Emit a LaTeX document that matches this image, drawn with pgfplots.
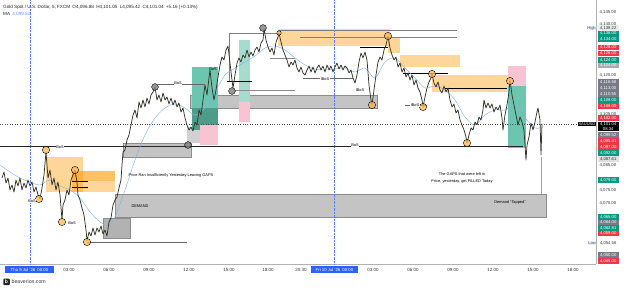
\documentclass[border=0pt]{standalone}
\usepackage{pgfplots}
\pgfplotsset{compat=1.18}
\usepackage{fontspec}
\setmainfont{Liberation Sans}
\definecolor{tvgreen}{HTML}{089981}
\definecolor{tvred}{HTML}{F23645}
\definecolor{tvgray}{HTML}{787B86}
\definecolor{tvlgray}{HTML}{A9ACB5}
\definecolor{tvblue}{HTML}{2962FF}
\definecolor{orangeC}{HTML}{FF9800}
\definecolor{orangeDot}{HTML}{FFB74D}
\definecolor{tealA}{HTML}{6CC5AE}
\definecolor{tealB}{HTML}{A6DCCD}
\definecolor{tealD}{HTML}{4F9B89}
\definecolor{pinkA}{HTML}{F8C3D2}
\definecolor{boxgray}{HTML}{C4C4C4}
\definecolor{boxedge}{HTML}{8C8C8C}
\definecolor{candle}{HTML}{35352A}
\definecolor{maBlue}{HTML}{82B4F0}
\newcommand\fs[1]{\fontsize{#1}{#1}\selectfont}
\newcommand{\boxp}[5]{\addplot[#5] coordinates {(#1,#3) (#2,#3) (#2,#4) (#1,#4)} -- cycle;}
\newcommand{\plab}[4]{\node[anchor=west, fill=#3, text=#4, inner sep=0pt, minimum width=21pt, minimum height=5.2pt, font=\fs{4.2}] at (597.5,{264-#1}) {#2};}
\begin{document}
\begin{tikzpicture}[x=1pt,y=1pt]
\begin{axis}[at={(0,0)}, anchor=south west, scale only axis, width=596pt, height=264pt,
 xmin=0, xmax=596, ymin=4046.06, ymax=4149.71,
 axis x line*=bottom, axis y line*=right, axis line style={-, draw=black!30},
 major tick length=0pt,
 xtick={69,109,149,189,229,268,301,373,413,453,493,533,573},
 xticklabels={03:00,06:00,09:00,12:00,15:00,18:00,20:30,03:00,06:00,09:00,12:00,15:00,18:00},
 xticklabel style={anchor=center, yshift=-6pt, font=\fs{4.5}, text=black!80},
 ytick={4145,4140,4120,4105,4085,4075,4070},
 yticklabel style={font=\fs{4.3}, text=black!80, /pgf/number format/fixed, /pgf/number format/fixed zerofill, /pgf/number format/precision=2, /pgf/number format/1000 sep={,}, /pgf/number format/assume math mode=true},
 clip=false,
]
% --- zones ---
\boxp{46}{83}{4088.07}{4074.33}{fill=orangeC, fill opacity=0.4, draw=none}
\boxp{72}{115}{4082.57}{4078.65}{fill=orangeC, fill opacity=0.6, draw=none}
\boxp{72}{115}{4078.65}{4074.33}{fill=orangeC, fill opacity=0.4, draw=none}
\boxp{103}{130}{4064.12}{4056.27}{fill=black!30, draw=boxedge, line width=0.4pt}
\boxp{115}{546}{4073.54}{4064.51}{fill=boxgray, draw=boxedge, line width=0.4pt}
\boxp{123}{191}{4093.57}{4088.07}{fill=boxgray, draw=boxedge, line width=0.4pt}
\boxp{190}{377}{4112.41}{4107.31}{fill=boxgray, draw=boxedge, line width=0.4pt}
\boxp{187}{200}{4099.85}{4093.57}{fill=black!18, draw=none}
\boxp{192}{218}{4123.40}{4107.31}{fill=tealA, draw=none}
\boxp{192}{218}{4107.31}{4098.67}{fill=tealD, draw=none}
\boxp{200}{218}{4100.63}{4092.78}{fill=pinkA, draw=none}
\boxp{239}{250}{4134.01}{4109.66}{fill=tealB, draw=none}
\boxp{239}{250}{4109.66}{4101.81}{fill=pinkA, draw=none}
\boxp{278}{390}{4138.32}{4131.65}{fill=orangeC, fill opacity=0.4, draw=none}
\boxp{388}{400}{4135.18}{4128.90}{fill=orangeC, fill opacity=0.4, draw=none}
\boxp{400}{460}{4128.12}{4123.40}{fill=orangeC, fill opacity=0.4, draw=none}
\boxp{432}{518}{4120.26}{4113.59}{fill=orangeC, fill opacity=0.4, draw=none}
\boxp{508}{526}{4123.80}{4115.94}{fill=pinkA, draw=none}
\boxp{508}{526}{4115.94}{4091.60}{fill=tealA, draw=none}
% --- guide lines ---
\addplot[tvblue!80, densely dotted, line width=0.4pt] coordinates {(30,4046.06) (30,4149.71)};
\addplot[tvblue!80, densely dotted, line width=0.4pt] coordinates {(334,4046.06) (334,4149.71)};
\addplot[black!70, dotted, line width=0.45pt] coordinates {(0,4101.04) (596,4101.04)};
\addplot[black!85, line width=0.6pt] coordinates {(0,4092.39) (523,4092.39)};
\addplot[black, line width=0.6pt] coordinates {(72,4078.65) (88,4078.65)};
\addplot[black, line width=0.6pt] coordinates {(72,4076.29) (88,4076.29)};
\addplot[black!60, line width=0.4pt] coordinates {(87,4054.70) (187,4054.70)};
\addplot[black!50, line width=0.4pt] coordinates {(229,4117.91) (229,4136.75) (278,4136.75)};
\addplot[black!50, line width=0.4pt] coordinates {(278,4137.93) (457,4137.93)};
\addplot[black!50, line width=0.4pt] coordinates {(300,4135.18) (457,4135.18)};
\addplot[black, line width=0.6pt] coordinates {(227,4117.91) (252,4117.91)};
\addplot[black!45, line width=0.4pt] coordinates {(233,4114.37) (295,4114.37)};
\addplot[black!45, line width=0.4pt] coordinates {(270,4126.94) (295,4126.94)};
\addplot[black!60, line width=0.4pt] coordinates {(303,4119.09) (353,4119.09)};
\addplot[black, line width=0.6pt] coordinates {(360,4131.26) (388,4131.26)};
\addplot[black, line width=0.6pt] coordinates {(403,4121.05) (448,4121.05)};
\addplot[black, line width=0.6pt] coordinates {(445,4115.16) (507,4115.16)};
\addplot[black!60, line width=0.4pt] coordinates {(405,4108.48) (427,4108.48)};
\addplot[black!60, line width=0.4pt] coordinates {(158,4116.73) (205,4116.73)};
\addplot[black!35, line width=0.4pt] coordinates {(541,4088.07) (541,4073.54)};
% --- moving average ---
\addplot[maBlue, line width=0.45pt, smooth] coordinates {
(0,4084.93) (10,4082.18) (20,4079.82) (30,4078.25) (40,4077.08) (50,4079.04) (60,4076.68) (70,4075.11)
(80,4071.97) (90,4066.47) (100,4062.55) (108,4061.37) (115,4064.51) (125,4075.11) (135,4086.89)
(145,4096.71) (155,4103.38) (165,4107.31) (175,4108.88) (185,4107.31) (195,4104.56) (205,4107.31)
(215,4113.59) (225,4120.26) (235,4123.01) (245,4125.37) (255,4127.72) (265,4130.86) (275,4131.65)
(285,4130.08) (295,4126.94) (305,4124.19) (315,4122.62) (325,4122.23) (335,4122.62) (345,4123.01)
(355,4121.44) (365,4123.01) (375,4119.09) (385,4125.37) (395,4126.94) (405,4123.01) (415,4119.09)
(425,4115.16) (435,4115.94) (445,4114.37) (455,4110.45) (465,4103.77) (475,4100.63) (485,4104.56)
(495,4106.52) (505,4106.52) (515,4108.48) (525,4103.38) (535,4099.46) (542,4099.85)};
% --- price ---
\addplot[candle, line width=0.75pt, line join=round] coordinates {
(2,4079.82) (4,4082.18) (6,4077.86) (8,4079.82) (10,4075.11) (12,4077.08) (14,4074.33) (16,4079.04)
(18,4076.68) (20,4079.82) (22,4075.11) (24,4077.86) (26,4075.90) (28,4079.04) (30,4076.68) (32,4078.25)
(34,4074.33) (36,4076.29) (38,4073.15) (40,4071.58) (42,4075.90) (44,4081.00) (46,4090.03) (47,4084.93)
(48,4079.82) (50,4082.96) (52,4077.08) (54,4079.82) (56,4075.11) (58,4078.25) (60,4073.15) (62,4063.33)
(63,4069.22) (65,4071.19) (67,4075.11) (69,4073.15) (71,4079.04) (73,4081.00) (75,4082.96) (77,4078.25)
(78,4073.15) (80,4071.19) (82,4068.05) (84,4065.30) (86,4059.41) (87,4055.09) (89,4058.62) (91,4057.05)
(93,4060.19) (95,4057.44) (97,4060.19) (99,4058.62) (101,4060.98) (103,4057.84) (105,4059.41) (107,4057.05)
(109,4062.55) (111,4064.12) (113,4069.22) (115,4071.19) (117,4072.36) (119,4075.90) (121,4079.04)
(122,4084.93) (123,4090.03) (125,4090.82) (127,4094.74) (129,4096.71) (131,4100.63) (133,4104.56)
(135,4106.52) (137,4103.38) (139,4109.66) (141,4107.31) (143,4110.45) (145,4107.70) (147,4111.23)
(149,4108.88) (151,4112.41) (153,4113.59) (155,4115.55) (157,4110.45) (159,4112.41) (161,4109.66)
(163,4113.20) (165,4110.45) (167,4111.63) (169,4108.88) (171,4111.23) (173,4108.48) (175,4110.45)
(177,4107.70) (179,4109.27) (181,4105.74) (183,4107.31) (185,4103.38) (187,4100.63) (189,4098.67)
(191,4099.85) (193,4098.28) (195,4101.81) (197,4100.63) (199,4106.52) (201,4104.56) (203,4110.45)
(205,4116.34) (207,4112.41) (209,4119.09) (210,4122.23) (212,4115.16) (214,4110.45) (216,4114.37)
(218,4119.48) (220,4124.19) (222,4127.33) (224,4126.15) (226,4130.08) (228,4131.65) (230,4124.98)
(232,4118.30) (233,4115.16) (235,4120.26) (237,4124.98) (239,4126.94) (241,4125.37) (243,4128.12)
(245,4126.94) (247,4130.08) (249,4127.33) (251,4129.29) (253,4127.72) (255,4130.08) (257,4131.26)
(259,4129.29) (261,4132.83) (263,4134.01) (264,4138.32) (266,4134.01) (268,4131.26) (270,4129.29)
(272,4130.86) (274,4128.12) (276,4133.22) (278,4135.18) (279,4136.75) (281,4133.22) (283,4130.08)
(285,4128.12) (287,4126.15) (289,4123.40) (291,4125.37) (293,4124.19) (295,4126.15) (297,4123.01)
(299,4121.44) (301,4123.40) (303,4121.05) (305,4120.26) (307,4122.23) (309,4123.80) (311,4121.44)
(313,4123.40) (315,4121.05) (317,4123.01) (319,4124.19) (321,4122.23) (323,4123.80) (325,4121.44)
(327,4124.19) (329,4122.23) (331,4123.80) (333,4121.44) (335,4123.40) (337,4124.98) (339,4122.62)
(341,4124.19) (343,4122.23) (345,4123.80) (347,4123.01) (349,4121.05) (351,4122.23) (353,4119.09)
(355,4117.12) (357,4120.26) (359,4125.37) (361,4128.90) (363,4126.94) (365,4129.29) (367,4126.15)
(369,4116.34) (371,4110.45) (372,4108.48) (374,4114.37) (376,4120.26) (378,4125.37) (380,4127.33)
(382,4126.15) (384,4130.08) (386,4132.04) (388,4135.58) (390,4130.86) (392,4128.12) (394,4126.15)
(396,4127.33) (398,4123.40) (400,4124.98) (402,4121.44) (404,4123.01) (406,4119.48) (408,4121.05)
(410,4118.30) (412,4120.26) (414,4116.34) (416,4118.30) (418,4115.16) (420,4113.59) (422,4110.45)
(423,4107.70) (425,4111.63) (427,4115.16) (429,4117.52) (431,4119.09) (432,4120.66) (434,4117.12)
(436,4115.55) (438,4117.52) (440,4114.37) (442,4113.20) (444,4115.94) (446,4113.59) (448,4115.16)
(450,4110.45) (452,4107.70) (454,4108.88) (456,4105.34) (458,4106.52) (460,4102.60) (462,4100.63)
(464,4098.67) (466,4095.92) (467,4093.57) (469,4096.71) (471,4099.46) (473,4098.67) (475,4101.81)
(477,4100.63) (479,4103.77) (481,4102.60) (483,4106.52) (484,4110.45) (486,4107.31) (488,4109.27)
(490,4107.31) (492,4108.88) (494,4105.74) (496,4107.70) (498,4106.52) (500,4108.48) (502,4103.38)
(503,4098.67) (505,4104.56) (507,4108.48) (509,4113.59) (510,4118.30) (512,4112.41) (514,4108.48)
(516,4104.56) (518,4100.63) (520,4103.77) (522,4101.81) (524,4098.67) (526,4086.89) (527,4092.78)
(529,4095.92) (531,4101.42) (533,4098.67) (535,4101.81) (537,4105.74) (538,4107.31) (540,4102.60)
(541,4088.85) (542,4101.03)};
% --- swing markers ---
\addplot[only marks, draw=none, mark=*, mark size=3.6pt, mark options={fill=orangeDot, draw=none, fill opacity=0.75}] coordinates {
(39,4071.58) (46,4090.82) (62,4062.55) (75,4082.96) (87,4054.70) (372,4108.48) (388,4135.58)
(423,4107.70) (432,4120.66) (467,4093.57) (510,4117.91)};
\addplot[only marks, draw=none, mark=*, mark size=2.2pt, mark options={fill=orangeDot, draw=none, fill opacity=0.75}] coordinates {(279,4136.75)};
\addplot[only marks, draw=none, mark=*, mark size=3.4pt, mark options={fill=black!50, draw=none, fill opacity=0.8}] coordinates {
(155,4115.55) (188,4092.78) (232,4113.98) (263,4138.72)};
\end{axis}
% --- annotations ---
\tikzset{ann/.style={font=\fs{3.9}, text=black, inner sep=0.5pt}}
\node[ann, fill=white] at (32,63) {BoS};
\node[ann, fill=white] at (60,117) {BoS};
\node[ann, fill=white] at (72,41) {BoS};
\node[ann, fill=white] at (178,181) {BoS};
\node[ann] at (213,195) {BoS};
\node[ann, fill=white] at (355,119) {BoS};
\node[ann, fill=white] at (325,185) {IBoS};
\node[ann] at (360,174) {IBoS};
\node[ann, fill=white] at (415,159) {IBoS};
\node[ann, anchor=west] at (128,89) {Price Ran Insufficiently Yesterday Leaving GAPS};
\node[ann] at (140,58) {DEMAND};
\node[ann] at (462,90) {The GAPS that were left in};
\node[ann] at (462,83) {Price, yesterday, get FILLED Today};
\node[ann] at (510,62) {Demand ``Tapped''};
% header
\node[anchor=west, inner sep=0pt, font=\fs{4.6}, text=black!85] at (3,257) {Gold Spot / U.S. Dollar, 5, FXCM\enspace O4,096.88\enspace H4,101.05\enspace L4,095.42\enspace C4,101.04\enspace +5.16 (+0.13\%)};
\node[anchor=west, inner sep=0pt, font=\fs{4.6}, text=black!85] at (3,250) {MA\enspace\textcolor{tvblue!70}{4,099.52}};
% right price labels
\plab{28}{4,138.22}{black!8}{black!80}
\plab{33.7}{4,136.00}{tvgreen}{white}
\plab{39}{4,134.00}{tvgreen}{white}
\plab{47.7}{4,128.00}{tvred}{white}
\plab{53.3}{4,126.00}{tvred}{white}
\plab{60}{4,124.00}{tvgreen}{white}
\plab{65.7}{4,124.00}{tvlgray}{white}
\plab{82}{4,116.68}{tvgray}{white}
\plab{88}{4,113.00}{tvgray}{white}
\plab{94}{4,110.55}{tvgray}{white}
\plab{100}{4,108.00}{tvgreen}{white}
\plab{106}{4,108.00}{tvred}{white}
\plab{118}{4,102.00}{tvred}{white}
\node[anchor=west, fill=black, text=white, align=center, inner sep=0.4pt, minimum width=21pt, font=\fontsize{4.2}{5}\selectfont] at (597.5,{264-126.5}) {4,101.04\\08:34};
\plab{135}{4,099.52}{tvgray}{white}
\plab{141}{4,095.41}{tvred}{white}
\plab{147}{4,097.00}{tvred}{white}
\plab{153}{4,092.00}{tvgreen}{white}
\plab{159}{4,087.61}{black!12}{black!80}
\plab{180}{4,079.00}{tvgreen}{white}
\plab{217}{4,065.00}{tvgreen}{white}
\plab{222.5}{4,064.00}{tvgray}{white}
\plab{228}{4,062.81}{tvgreen}{white}
\plab{233.5}{4,059.00}{tvred}{white}
\plab{243}{4,054.56}{white}{black!80}
\plab{255}{4,050.00}{tvgray}{white}
\plab{261}{4,045.00}{tvred}{white}
\node[anchor=east, fill=black, text=white, inner sep=0.6pt, font=\fs{4}] at (596,140) {XAUUSD};
\node[anchor=east, fill=tvblue!10, text=black!70, inner sep=0.6pt, font=\fs{4}] at (596.5,236) {High};
\node[anchor=east, fill=tvblue!10, text=black!70, inner sep=0.6pt, font=\fs{4}] at (596.5,21) {Low};
% date boxes
\node[fill=tvblue, text=white, inner sep=0pt, minimum width=49pt, minimum height=7pt, font=\fs{4.3}] at (29.5,-6) {Thu 9 Jul '26\enspace 00:00};
\node[fill=tvblue, text=white, inner sep=0pt, minimum width=47pt, minimum height=7pt, font=\fs{4.3}] at (334.5,-6) {Fri 10 Jul '26\enspace 00:00};
% watermark
\node[fill=black!85, text=white, rounded corners=0.8pt, inner sep=0pt, minimum size=6.5pt, font=\bfseries\fs{5}] at (6.5,-18) {b};
\node[anchor=west, inner sep=0pt, font=\fs{5.2}, text=black!80] at (11.5,-18) {beaverion.com};
\pgfresetboundingbox
\useasboundingbox (0,-24) rectangle (625,264);
\end{tikzpicture}
\end{document}
